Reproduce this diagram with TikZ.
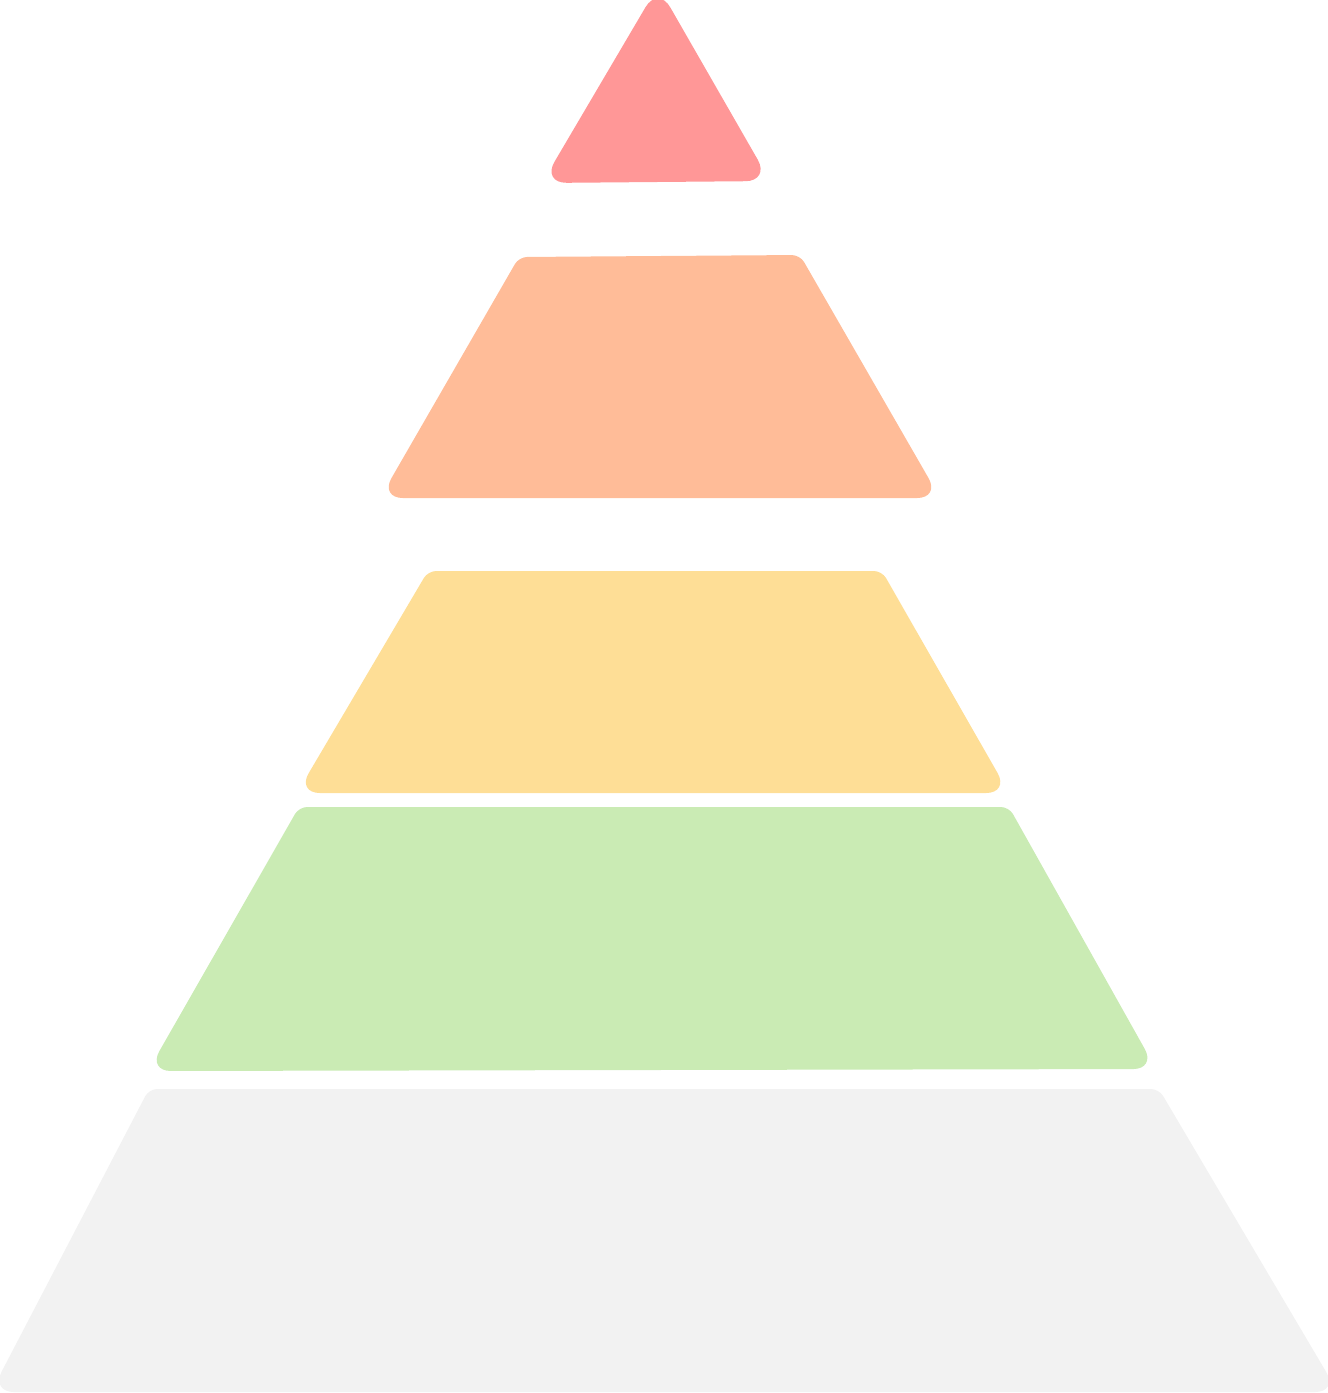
\documentclass[tikz,border=0pt]{standalone}
\definecolor{tierred}{HTML}{FF9797}
\definecolor{tierorange}{HTML}{FFBC98}
\definecolor{tieryellow}{HTML}{FEDE96}
\definecolor{tiergreen}{HTML}{CAEBB4}
\definecolor{tiergray}{HTML}{F2F2F2}
\tikzset{
    tier/.style = {draw=none},
    top corner/.style = {rounded corners=2.3pt},
    base corner/.style = {rounded corners=6.5pt}
}
\begin{document}
\begin{tikzpicture}[x=0.01cm, y=-0.01cm]
    \useasboundingbox (0,0) rectangle (1328,1393);
    % top to bottom
    \fill[tier, fill=tierred, rounded corners=7pt] (658,-14) -- (770,181) -- (542,183) -- cycle;
    \fill[tier, fill=tierorange] (519,257) [top corner] -- (800,255) [base corner] -- (940,498) -- (380,498) [top corner] -- cycle;
    \fill[tier, fill=tieryellow] (428,571) [top corner] -- (882,571) [base corner] -- (1009,793) -- (297,793) [top corner] -- cycle;
    \fill[tier, fill=tiergreen]  (299,807) [top corner] -- (1009,807) [base corner] -- (1156,1069) -- (148,1071) [top corner] -- cycle;
    \fill[tier, fill=tiergray]   (149,1089) [top corner] -- (1159,1089) [base corner] -- (1338,1392) -- (-9,1392) [top corner] -- cycle;
\end{tikzpicture}
\end{document}
